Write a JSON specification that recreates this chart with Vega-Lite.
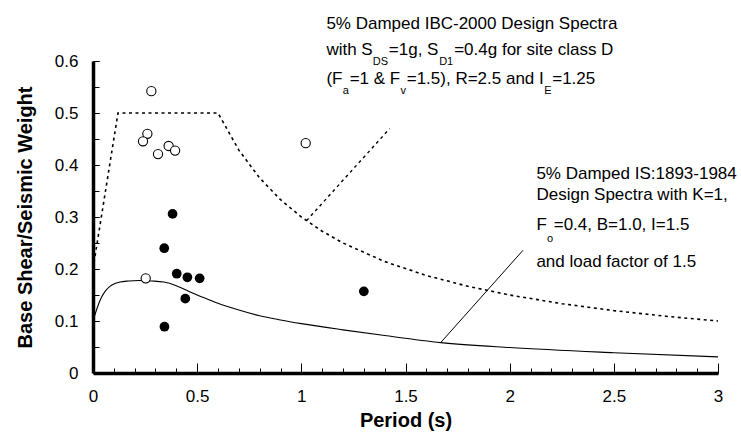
{
  "$schema": "https://vega.github.io/schema/vega-lite/v6.json",
  "width": 625,
  "height": 312,
  "autosize": {"type": "none"},
  "padding": {"left": 93, "top": 61, "right": 23, "bottom": 68},
  "background": "white",
  "config": {
    "view": {"stroke": null},
    "axis": {
      "grid": false,
      "domainColor": "black",
      "tickColor": "black",
      "labelColor": "black",
      "titleColor": "black",
      "labelFont": "Liberation Sans",
      "labelFontSize": 17,
      "titleFont": "Liberation Sans",
      "titleFontSize": 20,
      "titleFontWeight": "bold"
    }
  },
  "datasets": {
    "ibc": [
      {"period": 0, "c": 0.2},
      {"period": 0.12, "c": 0.5},
      {"period": 0.6, "c": 0.5},
      {"period": 0.7, "c": 0.4286},
      {"period": 0.8, "c": 0.375},
      {"period": 0.9, "c": 0.3333},
      {"period": 1.0, "c": 0.3},
      {"period": 1.1, "c": 0.2727},
      {"period": 1.2, "c": 0.25},
      {"period": 1.4, "c": 0.2143},
      {"period": 1.6, "c": 0.1875},
      {"period": 1.8, "c": 0.1667},
      {"period": 2.0, "c": 0.15},
      {"period": 2.25, "c": 0.1333},
      {"period": 2.5, "c": 0.12},
      {"period": 2.75, "c": 0.1091},
      {"period": 3.0, "c": 0.1}
    ],
    "is": [
      {"period": 0, "c": 0.1},
      {"period": 0.02, "c": 0.125},
      {"period": 0.04, "c": 0.145},
      {"period": 0.06, "c": 0.158},
      {"period": 0.08, "c": 0.166},
      {"period": 0.1, "c": 0.171},
      {"period": 0.13, "c": 0.175},
      {"period": 0.17, "c": 0.177},
      {"period": 0.22, "c": 0.178},
      {"period": 0.28, "c": 0.177},
      {"period": 0.34, "c": 0.175},
      {"period": 0.4, "c": 0.168},
      {"period": 0.45, "c": 0.159},
      {"period": 0.5, "c": 0.15},
      {"period": 0.55, "c": 0.142},
      {"period": 0.6, "c": 0.134},
      {"period": 0.7, "c": 0.121},
      {"period": 0.8, "c": 0.11},
      {"period": 0.9, "c": 0.102},
      {"period": 1.0, "c": 0.095},
      {"period": 1.2, "c": 0.083},
      {"period": 1.4, "c": 0.072},
      {"period": 1.67, "c": 0.0585},
      {"period": 2.0, "c": 0.049},
      {"period": 2.5, "c": 0.039},
      {"period": 3.0, "c": 0.031}
    ],
    "leaderIbc": [
      {"period": 1.025, "c": 0.293},
      {"period": 1.424, "c": 0.47}
    ],
    "leaderIs": [
      {"period": 1.669, "c": 0.0585},
      {"period": 2.064, "c": 0.236}
    ],
    "open": [
      {"period": 0.28, "c": 0.542},
      {"period": 0.261, "c": 0.46},
      {"period": 0.24, "c": 0.4456},
      {"period": 0.363, "c": 0.4366},
      {"period": 0.312, "c": 0.421},
      {"period": 0.394, "c": 0.4277},
      {"period": 1.021, "c": 0.442},
      {"period": 0.253, "c": 0.182}
    ],
    "filled": [
      {"period": 0.382, "c": 0.306},
      {"period": 0.342, "c": 0.24},
      {"period": 0.402, "c": 0.191},
      {"period": 0.453, "c": 0.184},
      {"period": 0.512, "c": 0.182},
      {"period": 0.443, "c": 0.143},
      {"period": 0.343, "c": 0.089},
      {"period": 1.3, "c": 0.157}
    ],
    "notes": [
      {"x": 1.1203, "y": 0.6623, "label": "5% Damped IBC-2000 Design Spectra"},
      {"x": 1.1203, "y": 0.611, "label": "with S"},
      {"x": 1.42, "y": 0.611, "label": "=1g, S"},
      {"x": 1.7337, "y": 0.611, "label": "=0.4g for site class D"},
      {"x": 1.1203, "y": 0.5565, "label": "(F"},
      {"x": 1.232, "y": 0.5565, "label": "=1 & F"},
      {"x": 1.5058, "y": 0.5565, "label": "=1.5), R=2.5 and I"},
      {"x": 2.2042, "y": 0.5565, "label": "=1.25"},
      {"x": 2.1284, "y": 0.3738, "label": "5% Damped IS:1893-1984"},
      {"x": 2.1284, "y": 0.3321, "label": "Design Spectra with K=1,"},
      {"x": 2.1284, "y": 0.2758, "label": "F"},
      {"x": 2.2114, "y": 0.2758, "label": "=0.4,  B=1.0, I=1.5"},
      {"x": 2.1284, "y": 0.2038, "label": "and load factor of 1.5"}
    ],
    "subs": [
      {"x": 1.3427, "y": 0.5917, "label": "DS"},
      {"x": 1.6615, "y": 0.5917, "label": "D1"},
      {"x": 1.1986, "y": 0.536, "label": "a"},
      {"x": 1.476, "y": 0.536, "label": "v"},
      {"x": 2.1658, "y": 0.536, "label": "E"},
      {"x": 2.1793, "y": 0.2519, "label": "o"}
    ]
  },
  "layer": [
    {
      "data": {"name": "ibc"},
      "mark": {"type": "line", "color": "black", "strokeWidth": 1.6, "strokeDash": [3, 3.5]},
      "encoding": {
        "x": {
          "field": "period", "type": "quantitative",
          "scale": {"domain": [0, 3], "nice": false},
          "axis": {
            "orient": "bottom", "title": null, "labels": false, "domain": false,
            "tickSize": -5, "tickWidth": 1,
            "values": [0, 0.1, 0.2, 0.3, 0.4, 0.5, 0.6, 0.7, 0.8, 0.9, 1, 1.1, 1.2, 1.3, 1.4, 1.5, 1.6, 1.7, 1.8, 1.9, 2, 2.1, 2.2, 2.3, 2.4, 2.5, 2.6, 2.7, 2.8, 2.9, 3]
          }
        },
        "y": {
          "field": "c", "type": "quantitative",
          "scale": {"domain": [0, 0.6], "nice": false},
          "axis": {
            "orient": "left", "title": null, "labels": false, "domain": false,
            "tickSize": -6, "tickWidth": 1,
            "values": [0, 0.05, 0.1, 0.15, 0.2, 0.25, 0.3, 0.35, 0.4, 0.45, 0.5, 0.55, 0.6]
          }
        }
      }
    },
    {
      "data": {"name": "is"},
      "mark": {"type": "line", "color": "black", "strokeWidth": 1.1, "interpolate": "monotone"},
      "encoding": {
        "x": {
          "field": "period", "type": "quantitative",
          "axis": {
            "orient": "bottom", "title": "Period (s)", "format": "~g",
            "values": [0, 0.5, 1, 1.5, 2, 2.5, 3],
            "tickSize": -10, "tickWidth": 1, "domainWidth": 3.5,
            "labelPadding": 25, "titlePadding": 6, "labelFlush": false
          }
        },
        "y": {
          "field": "c", "type": "quantitative",
          "axis": {
            "orient": "left", "title": "Base Shear/Seismic Weight", "format": "~g",
            "values": [0, 0.1, 0.2, 0.3, 0.4, 0.5, 0.6],
            "tickSize": -6, "tickWidth": 1, "domainWidth": 3.5,
            "labelPadding": 21, "titlePadding": 19, "labelFlush": false
          }
        }
      }
    },
    {
      "data": {"name": "leaderIbc"},
      "mark": {"type": "line", "color": "black", "strokeWidth": 1.4, "strokeDash": [3, 3.5]},
      "encoding": {
        "x": {"field": "period", "type": "quantitative", "axis": null},
        "y": {"field": "c", "type": "quantitative", "axis": null}
      }
    },
    {
      "data": {"name": "leaderIs"},
      "mark": {"type": "line", "color": "black", "strokeWidth": 1},
      "encoding": {
        "x": {"field": "period", "type": "quantitative", "axis": null},
        "y": {"field": "c", "type": "quantitative", "axis": null}
      }
    },
    {
      "data": {"name": "open"},
      "mark": {"type": "point", "shape": "circle", "filled": false, "stroke": "black", "fill": "white", "fillOpacity": 1, "strokeWidth": 1.1, "size": 85, "opacity": 1},
      "encoding": {
        "x": {"field": "period", "type": "quantitative", "axis": null},
        "y": {"field": "c", "type": "quantitative", "axis": null}
      }
    },
    {
      "data": {"name": "filled"},
      "mark": {"type": "point", "shape": "circle", "filled": true, "color": "black", "size": 95, "opacity": 1},
      "encoding": {
        "x": {"field": "period", "type": "quantitative", "axis": null},
        "y": {"field": "c", "type": "quantitative", "axis": null}
      }
    },
    {
      "data": {"name": "notes"},
      "mark": {"type": "text", "align": "left", "baseline": "alphabetic", "font": "Liberation Sans", "fontSize": 17, "color": "black"},
      "encoding": {
        "x": {"field": "x", "type": "quantitative", "axis": null},
        "y": {"field": "y", "type": "quantitative", "axis": null},
        "text": {"field": "label"}
      }
    },
    {
      "data": {"name": "subs"},
      "mark": {"type": "text", "align": "left", "baseline": "alphabetic", "font": "Liberation Sans", "fontSize": 11, "color": "black"},
      "encoding": {
        "x": {"field": "x", "type": "quantitative", "axis": null},
        "y": {"field": "y", "type": "quantitative", "axis": null},
        "text": {"field": "label"}
      }
    }
  ],
  "resolve": {"axis": {"x": "independent", "y": "independent"}}
}
